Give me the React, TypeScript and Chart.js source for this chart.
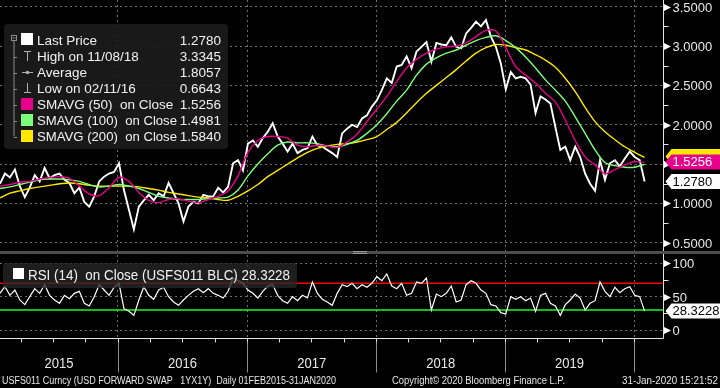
import React, { useEffect, useRef } from "react";
import { Chart, registerables } from "chart.js";

Chart.register(...registerables);

// ---------------- data ----------------
const seriesStart = "2015-02-01";
const seriesEnd = "2020-01-31";
const axisStart = "2015-02-01";
const axisEnd = "2020-03-23";
const yearStarts = ["2015-01-01", "2016-01-01", "2017-01-01", "2018-01-01", "2019-01-01", "2020-01-01"];
const yearLabels = ["2015", "2016", "2017", "2018", "2019"];

const priceValues = [
  1.25, 1.38, 1.33, 1.43, 1.22, 1.08, 1.2, 1.36, 1.28, 1.45,
  1.32, 1.36, 1.38, 1.3, 1.26, 1.13, 1.2, 1.02, 0.96, 1.09,
  1.28, 1.34, 1.38, 1.4, 1.51, 1.17, 0.92, 0.67, 0.96, 1.04,
  1.11, 1.04, 1.13, 1.09, 1.26, 1.13, 1.0, 0.77, 0.96, 1.02,
  1.0, 1.11, 1.09, 1.09, 1.2, 1.14, 1.21, 1.51, 1.55, 1.42,
  1.76, 1.8, 1.72, 1.83, 1.91, 2.02, 1.85, 1.76, 1.66, 1.76,
  1.64, 1.68, 1.7, 1.85, 1.74, 1.72, 1.68, 1.64, 1.59, 1.89,
  1.95, 2.0, 1.97, 2.08, 2.12, 2.23, 2.31, 2.44, 2.59, 2.53,
  2.74, 2.76, 2.87, 2.72, 2.93, 2.99, 3.05, 2.8, 3.04, 3.02,
  3.01, 3.11, 2.99, 2.97, 3.16, 3.23, 3.31, 3.25, 3.33, 3.12,
  2.99, 2.78, 2.45, 2.67, 2.59, 2.61, 2.59, 2.51, 2.15, 2.36,
  2.32, 2.27, 1.97, 1.68, 1.72, 1.55, 1.72, 1.59, 1.38, 1.25,
  1.16, 1.55, 1.3, 1.51, 1.55, 1.47, 1.57, 1.66, 1.59, 1.55,
  1.278,
];

// Moving averages, sampled every ~4 weeks
const sma50Values = [
  1.22, 1.24, 1.27, 1.28, 1.31, 1.33, 1.34, 1.32, 1.22, 1.12,
  1.1, 1.2, 1.33, 1.28, 1.14, 1.04, 1.01, 1.05, 1.06, 1.03,
  1.01, 1.05, 1.09, 1.16, 1.35, 1.65, 1.8, 1.85, 1.85, 1.83,
  1.74, 1.72, 1.74, 1.73, 1.71, 1.78, 1.88, 2.04, 2.2, 2.36,
  2.55, 2.72, 2.83, 2.91, 2.96, 2.99, 3.0, 3.04, 3.12, 3.2,
  3.19, 2.98, 2.74, 2.63, 2.53, 2.4, 2.29, 2.06, 1.8, 1.59,
  1.49, 1.38, 1.43, 1.49, 1.53, 1.5256,
];
const sma100Values = [
  1.19, 1.21, 1.24, 1.27, 1.3, 1.31, 1.31, 1.3, 1.28, 1.24,
  1.21, 1.22, 1.24, 1.22, 1.19, 1.14, 1.09, 1.07, 1.05, 1.05,
  1.05, 1.06, 1.07, 1.08, 1.17, 1.35, 1.5, 1.63, 1.74, 1.78,
  1.77, 1.77, 1.76, 1.73, 1.72, 1.75, 1.8, 1.89, 2.0, 2.14,
  2.3, 2.44, 2.63, 2.77, 2.85, 2.91, 2.95, 3.01, 3.07, 3.11,
  3.13, 3.07, 2.98, 2.86, 2.72, 2.57, 2.44, 2.3, 2.1, 1.89,
  1.68, 1.52, 1.48, 1.46, 1.46, 1.4981,
];
const sma200Values = [
  1.07, 1.13, 1.16, 1.19, 1.21, 1.23, 1.25, 1.26, 1.25, 1.23,
  1.22, 1.22, 1.22, 1.22, 1.21, 1.19, 1.17, 1.14, 1.12, 1.1,
  1.08, 1.07, 1.05, 1.04, 1.09, 1.16, 1.24, 1.34, 1.42, 1.5,
  1.58, 1.65, 1.7, 1.73, 1.75, 1.76, 1.78, 1.81, 1.85, 1.94,
  2.03, 2.15, 2.28, 2.4, 2.5, 2.6, 2.7, 2.81, 2.91, 2.98,
  3.02, 3.01, 2.98, 2.95, 2.89, 2.82, 2.73, 2.59, 2.42, 2.22,
  2.04, 1.91, 1.81, 1.72, 1.65, 1.584,
];

// RSI(14), sampled every ~2 weeks
const rsiValues = [
  55, 65, 52, 60, 45, 38, 50, 62, 55, 68,
  52, 45, 40, 52, 47, 55, 58, 40, 36, 50,
  68, 60, 52, 64, 70, 32, 28, 22, 45, 65,
  52, 46, 60, 64, 50, 42, 37, 45, 52, 58,
  62, 56, 62, 55, 52, 48, 58, 78, 74, 70,
  60, 55, 48, 58, 66, 68, 52, 44, 40, 50,
  44, 52, 48, 72, 55, 46, 42, 37, 55, 68,
  65, 70, 62, 68, 64, 70, 80, 74, 84, 66,
  62, 70, 52, 55, 72, 70, 78, 30, 54, 50,
  55, 66, 42, 45, 68, 74, 70, 60, 55, 38,
  36, 26, 24, 50, 46, 50, 44, 48, 28, 52,
  55, 40, 36, 22, 38, 45, 54, 48, 30, 40,
  44, 72, 58, 50, 64, 56, 62, 65, 52, 50,
  28.3228,
];
const rsiLevels = [70, 30];

const mainTicks = [0.5, 1.0, 1.5, 2.0, 2.5, 3.0, 3.5];
const mainMinorTicks = [0.75, 1.25, 1.75, 2.25, 2.75, 3.25];
const rsiTicks = [0, 50, 100];
const rsiMinorTicks = [25, 75];
const mainRange = [0.383, 3.585];
const rsiRange = [-12, 117];

const legendLabels = [
  "Last Price",
  "High on 11/08/18",
  "Average",
  "Low on 02/11/16",
  "SMAVG (50)  on Close",
  "SMAVG (100)  on Close",
  "SMAVG (200)  on Close",
];
const legendValues = ["1.2780", "3.3345", "1.8057", "0.6643", "1.5256", "1.4981", "1.5840"];
const lastPrice = 1.278;
const lastSma50 = 1.5256;
const lastSma200 = 1.584;
const lastRsi = 28.3228;
const rsiLegend = "RSI (14)  on Close (USFS011 BLC) 28.3228";
const footerLeft = "USFS011 Curncy (USD FORWARD SWAP   1YX1Y)  Daily 01FEB2015-31JAN2020";
const footerMid = "Copyright\u00A9 2020 Bloomberg Finance L.P.";
const footerRight = "31-Jan-2020 15:21:52";

// ---------------- helpers ----------------
const BASE = Date.UTC(2015, 0, 1);
const dayOf = (s: string) => (Date.parse(s + "T00:00:00Z") - BASE) / 864e5;

const toPoints = (vals: number[]) => {
  const a = dayOf(seriesStart);
  const b = dayOf(seriesEnd);
  return vals.map((v, i) => ({ x: a + (i * (b - a)) / (vals.length - 1), y: v }));
};

const quarterDays = (() => {
  const out: number[] = [];
  for (let y = 2015; y <= 2020; y++) {
    for (const m of [0, 3, 6, 9]) {
      out.push((Date.UTC(y, m, 1) - BASE) / 864e5);
    }
  }
  return out;
})();

const FONT = '"Liberation Sans", Arial, sans-serif';
const MAGENTA = "#e6008c";
const GREEN = "#7dff7d";
const YELLOW = "#ffe800";
const GRID = "#6f6f6f";

function line(ctx: any, x1: number, y1: number, x2: number, y2: number) {
  ctx.beginPath();
  ctx.moveTo(x1, y1);
  ctx.lineTo(x2, y2);
  ctx.stroke();
}

function roundRect(ctx: any, x: number, y: number, w: number, h: number, r: number) {
  ctx.beginPath();
  ctx.moveTo(x + r, y);
  ctx.lineTo(x + w - r, y);
  ctx.quadraticCurveTo(x + w, y, x + w, y + r);
  ctx.lineTo(x + w, y + h - r);
  ctx.quadraticCurveTo(x + w, y + h, x + w - r, y + h);
  ctx.lineTo(x + r, y + h);
  ctx.quadraticCurveTo(x, y + h, x, y + h - r);
  ctx.lineTo(x, y + r);
  ctx.quadraticCurveTo(x, y, x + r, y);
  ctx.closePath();
}

function tag(ctx: any, x0: number, y: number, right: number, text: string | null, bg: string, fg: string) {
  ctx.beginPath();
  ctx.moveTo(x0, y);
  ctx.lineTo(x0 + 6, y - 7.5);
  ctx.lineTo(right, y - 7.5);
  ctx.lineTo(right, y + 7.5);
  ctx.lineTo(x0 + 6, y + 7.5);
  ctx.closePath();
  ctx.fillStyle = bg;
  ctx.fill();
  if (!text) return;
  ctx.fillStyle = fg;
  ctx.textAlign = "left";
  ctx.textBaseline = "middle";
  ctx.font = "13px " + FONT;
  ctx.fillText(text, x0 + 7, y + 0.5);
}

const overlay = {
  id: "bbgOverlay",
  beforeDraw(chart: any) {
    const { ctx } = chart;
    ctx.save();
    ctx.fillStyle = "#000";
    ctx.fillRect(0, 0, chart.width, chart.height);
    ctx.restore();
  },
  afterDraw(chart: any) {
    const { ctx } = chart;
    const W = chart.width;
    const xs = chart.scales.x;
    const ys = chart.scales.y;
    const yr = chart.scales.yR;
    const ca = chart.chartArea;
    const axX = Math.round(ca.right) + 0.5;
    const bottom = Math.round(ca.bottom) + 0.5;
    const sepTop = Math.round(ys.bottom) - 1;
    ctx.save();

    // panel separator
    ctx.fillStyle = "#4d4d4d";
    ctx.fillRect(0, sepTop, W, 3);
    ctx.fillStyle = "#9c9c9c";
    ctx.fillRect(353, sepTop, 14, 1);
    ctx.fillRect(353, sepTop + 2, 14, 1);

    // axis lines
    ctx.strokeStyle = "#e4e4e4";
    ctx.lineWidth = 1;
    line(ctx, axX, 0, axX, sepTop);
    line(ctx, axX, sepTop + 3, axX, bottom);
    line(ctx, 0, bottom, axX, bottom);

    // right axis labels
    const drawLabels = (scale: any, ticks: number[], fmt: (v: number) => string) => {
      ctx.font = "13px " + FONT;
      ctx.textAlign = "left";
      ctx.textBaseline = "middle";
      for (const v of ticks) {
        const y = Math.round(scale.getPixelForValue(v)) + 0.5;
        ctx.fillStyle = "#ffffff";
        ctx.beginPath();
        ctx.moveTo(axX + 0.5, y - 3.5);
        ctx.lineTo(axX + 7.5, y);
        ctx.lineTo(axX + 0.5, y + 3.5);
        ctx.closePath();
        ctx.fill();
        ctx.fillStyle = "#e8e8e8";
        ctx.fillText(fmt(v), axX + 9, y + 0.5);
      }
    };
    const drawMinor = (scale: any, ticks: number[]) => {
      ctx.strokeStyle = "#e4e4e4";
      for (const v of ticks) {
        const y = Math.round(scale.getPixelForValue(v)) + 0.5;
        line(ctx, axX, y, axX + 5, y);
      }
    };
    drawMinor(ys, mainMinorTicks);
    drawMinor(yr, rsiMinorTicks);
    drawLabels(ys, mainTicks, (v) => v.toFixed(4));
    drawLabels(yr, rsiTicks, (v) => String(v));

    // value tags (the 200-day tag sits under the 50-day one)
    tag(ctx, axX + 2, ys.getPixelForValue(lastSma200) - 1, W, null, YELLOW, "#000");
    tag(ctx, axX + 2, ys.getPixelForValue(lastSma50), W, lastSma50.toFixed(4), MAGENTA, "#ffffff");
    tag(ctx, axX + 2, ys.getPixelForValue(lastPrice), W, lastPrice.toFixed(4), "#ffffff", "#000");
    tag(ctx, axX + 2, yr.getPixelForValue(lastRsi), W, lastRsi.toFixed(4), "#ffffff", "#000");

    // time axis band
    const yearDays = yearStarts.map(dayOf);
    ctx.strokeStyle = "#8a8a8a";
    for (let i = 1; i < yearDays.length; i++) {
      const x = Math.round(xs.getPixelForValue(yearDays[i])) + 0.5;
      line(ctx, x, bottom, x, bottom + 34);
    }
    ctx.strokeStyle = "#d8d8d8";
    for (const q of quarterDays) {
      if (q < xs.min || q > xs.max) continue;
      const x = Math.round(xs.getPixelForValue(q)) + 0.5;
      line(ctx, x, bottom, x, bottom + 4);
    }
    ctx.font = "14px " + FONT;
    ctx.fillStyle = "#e8e8e8";
    ctx.textAlign = "center";
    ctx.textBaseline = "middle";
    for (let i = 0; i < yearLabels.length; i++) {
      const a = Math.max(xs.left, xs.getPixelForValue(yearDays[i]));
      const b = Math.min(xs.right, xs.getPixelForValue(yearDays[i + 1]));
      ctx.fillText(yearLabels[i], (a + b) / 2, bottom + 26, 29);
    }

    // footer
    ctx.font = "10px " + FONT;
    ctx.fillStyle = "#e6e6e6";
    ctx.textAlign = "left";
    ctx.fillText(footerLeft, 2, 381, 334);
    ctx.fillText(footerMid, 392, 381, 173);
    ctx.fillText(footerRight, 622, 381, 96);

    // main legend
    roundRect(ctx, 4, 24, 224, 125, 4);
    ctx.fillStyle = "rgba(27,27,27,0.93)";
    ctx.fill();
    const rowY = (i: number) => 40.5 + i * 16;
    ctx.strokeStyle = "#8c8c8c";
    ctx.lineWidth = 1;
    ctx.strokeRect(11.5, 35.5, 5, 5);
    line(ctx, 12.5, 38, 15.5, 38);
    line(ctx, 14, 41, 14, rowY(6));
    for (let i = 1; i < 7; i++) line(ctx, 14, Math.round(rowY(i)) + 0.5, 17, Math.round(rowY(i)) + 0.5);
    // row icons
    ctx.fillStyle = "#ffffff";
    ctx.fillRect(21, 33, 12, 12);
    ctx.strokeStyle = "#b0b0b0";
    line(ctx, 24, 51.5, 31, 51.5);
    line(ctx, 27.5, 51, 27.5, 61);
    line(ctx, 22, 72.5, 33, 72.5);
    ctx.fillStyle = "#b0b0b0";
    ctx.beginPath();
    ctx.arc(27.5, 72.5, 1.8, 0, Math.PI * 2);
    ctx.fill();
    line(ctx, 27.5, 83, 27.5, 92);
    line(ctx, 24, 92.5, 31, 92.5);
    const sq = [MAGENTA, GREEN, YELLOW];
    for (let k = 0; k < 3; k++) {
      ctx.fillStyle = sq[k];
      ctx.fillRect(21, Math.round(rowY(4 + k)) - 7, 12, 12);
    }
    ctx.font = "13.5px " + FONT;
    ctx.fillStyle = "#f2f2f2";
    ctx.textBaseline = "middle";
    for (let i = 0; i < legendLabels.length; i++) {
      ctx.textAlign = "left";
      ctx.fillText(legendLabels[i], 37, rowY(i) + 0.5, 140);
      ctx.textAlign = "right";
      ctx.fillText(legendValues[i], 221, rowY(i) + 0.5);
    }

    // RSI legend
    roundRect(ctx, 3, 263, 294, 25, 3);
    ctx.fillStyle = "rgba(38,38,38,0.78)";
    ctx.fill();
    ctx.fillStyle = "#ffffff";
    ctx.fillRect(13, 268, 11, 11);
    ctx.font = "14px " + FONT;
    ctx.fillStyle = "#f2f2f2";
    ctx.textAlign = "left";
    ctx.fillText(rsiLegend, 28, 276, 262);

    ctx.restore();
  },
};

export default function App() {
  const ref = useRef<HTMLCanvasElement>(null);

  useEffect(() => {
    const canvas = ref.current;
    if (!canvas) return;
    const xMin = dayOf(axisStart);
    const xMax = dayOf(axisEnd);
    const lineDs = (label: string, data: any[], color: string, width: number, axis: string, order: number, tension = 0) => ({
      label,
      data,
      borderColor: color,
      backgroundColor: color,
      borderWidth: width,
      pointRadius: 0,
      tension,
      yAxisID: axis,
      order,
      fill: false,
    });
    const chart = new Chart(canvas, {
      type: "line",
      data: {
        datasets: [
          lineDs("SMAVG (50)", toPoints(sma50Values), MAGENTA, 1.4, "y", 1, 0.3),
          lineDs("SMAVG (100)", toPoints(sma100Values), GREEN, 1.4, "y", 2, 0.3),
          lineDs("SMAVG (200)", toPoints(sma200Values), YELLOW, 1.4, "y", 3, 0.3),
          lineDs("Last Price", toPoints(priceValues), "#ffffff", 1.9, "y", 4),
          lineDs("RSI", toPoints(rsiValues), "#ffffff", 1.2, "yR", 5),
          lineDs("70", [{ x: xMin, y: rsiLevels[0] }, { x: xMax, y: rsiLevels[0] }], "#ff0000", 1.5, "yR", 6),
          lineDs("30", [{ x: xMin, y: rsiLevels[1] }, { x: xMax, y: rsiLevels[1] }], "#1aff1a", 1.5, "yR", 7),
        ],
      },
      options: {
        responsive: false,
        animation: false,
        devicePixelRatio: 1,
        events: [],
        layout: { padding: { left: 0, right: 0, top: 0, bottom: 50 } },
        plugins: { legend: { display: false }, tooltip: { enabled: false } },
        scales: {
          x: {
            type: "linear",
            position: "bottom",
            min: xMin,
            max: xMax,
            afterBuildTicks: (s: any) => {
              s.ticks = yearStarts.slice(1).map((d) => ({ value: dayOf(d) }));
            },
            afterFit: (s: any) => {
              s.height = 0;
            },
            ticks: { display: false },
            grid: { color: GRID, lineWidth: 1, drawTicks: false },
            border: { display: false, dash: [2, 3] },
          },
          y: {
            type: "linear",
            position: "right",
            stack: "panels",
            stackWeight: 252,
            min: mainRange[0],
            max: mainRange[1],
            afterBuildTicks: (s: any) => {
              s.ticks = mainTicks.map((v) => ({ value: v }));
            },
            afterFit: (s: any) => {
              s.width = 57;
            },
            ticks: { display: false },
            grid: { color: GRID, lineWidth: 1, drawTicks: false },
            border: { display: false, dash: [2, 3] },
          },
          yR: {
            type: "linear",
            position: "right",
            stack: "panels",
            stackWeight: 86,
            min: rsiRange[0],
            max: rsiRange[1],
            afterBuildTicks: (s: any) => {
              s.ticks = rsiTicks.map((v) => ({ value: v }));
            },
            afterFit: (s: any) => {
              s.width = 57;
            },
            ticks: { display: false },
            grid: { color: GRID, lineWidth: 1, drawTicks: false },
            border: { display: false, dash: [2, 3] },
          },
        },
      } as any,
      plugins: [overlay],
    });
    return () => chart.destroy();
  }, []);

  return (
    <div style={{ position: "fixed", left: 0, top: 0, width: 720, height: 388, background: "#000" }}>
      <canvas ref={ref} width={720} height={388} style={{ display: "block", width: 720, height: 388 }} />
    </div>
  );
}
